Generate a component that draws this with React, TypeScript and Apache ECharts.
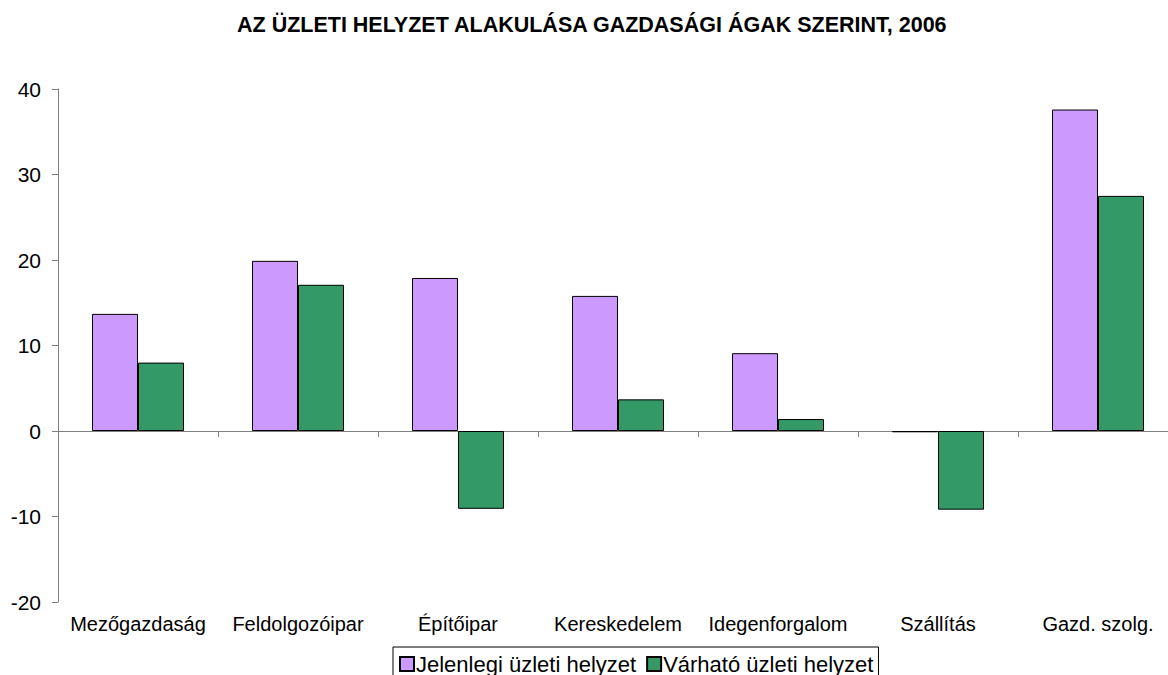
import React, { useEffect, useRef } from "react";
import * as echarts from "echarts";

const titleText = "AZ ÜZLETI HELYZET ALAKULÁSA GAZDASÁGI ÁGAK SZERINT, 2006";
const categories = [
  "Mezőgazdaság",
  "Feldolgozóipar",
  "Építőipar",
  "Kereskedelem",
  "Idegenforgalom",
  "Szállítás",
  "Gazd. szolg.",
];
const seriesNames = ["Jelenlegi üzleti helyzet", "Várható üzleti helyzet"];
const currentValues = [13.7, 19.9, 17.9, 15.8, 9.1, -0.15, 37.6];
const expectedValues = [8.0, 17.1, -9.1, 3.7, 1.4, -9.2, 27.5];
const yMin = -20;
const yMax = 40;
const yInterval = 10;

const FONT = "'Liberation Sans', Arial, sans-serif";

export default function App() {
  const ref = useRef<HTMLDivElement>(null);
  useEffect(() => {
    if (!ref.current) return;
    const chart = echarts.init(ref.current, undefined, { renderer: "svg" });
    chart.setOption({
      animation: false,
      backgroundColor: "#ffffff",
      title: {
        text: titleText,
        left: 237,
        top: 14,
        padding: 0,
        textStyle: { fontFamily: FONT, fontSize: 21.5, fontWeight: "bold", color: "#000" },
      },
      legend: {
        data: seriesNames,
        left: 393,
        top: 647,
        orient: "horizontal",
        icon: "rect",
        itemWidth: 14,
        itemHeight: 14,
        itemGap: 10,
        padding: [6, 5, 8, 6],
        borderColor: "#000",
        borderWidth: 1,
        borderRadius: 0,
        textStyle: { fontFamily: FONT, fontSize: 22, color: "#000", padding: [0, 0, 0, -3] },
      },
      grid: { left: 58, right: 0, top: 89, bottom: 73, containLabel: false },
      xAxis: [
        {
          type: "category",
          data: categories,
          position: "bottom",
          axisLine: { show: false, onZero: false },
          axisTick: { show: false },
          axisLabel: { fontFamily: FONT, fontSize: 20, color: "#000", margin: 12, interval: 0 },
        },
        {
          type: "category",
          data: categories,
          position: "top",
          axisLine: { show: true, onZero: true, lineStyle: { color: "#808080", width: 1 } },
          axisTick: { show: true, inside: true, length: 6, lineStyle: { color: "#808080" } },
          axisLabel: { show: false },
        },
      ],
      yAxis: {
        type: "value",
        min: yMin,
        max: yMax,
        interval: yInterval,
        axisLine: { show: true, onZero: false, lineStyle: { color: "#808080", width: 1 } },
        axisTick: { show: true, length: 6, lineStyle: { color: "#808080" } },
        splitLine: { show: false },
        axisLabel: { fontFamily: FONT, fontSize: 21, color: "#000", margin: 17 },
      },
      series: [
        {
          name: seriesNames[0],
          type: "bar",
          data: currentValues,
          barWidth: 46,
          barGap: "0%",
          itemStyle: { color: "#CC99FF", borderColor: "#000", borderWidth: 1 },
        },
        {
          name: seriesNames[1],
          type: "bar",
          data: expectedValues,
          barWidth: 46,
          barGap: "0%",
          itemStyle: { color: "#339966", borderColor: "#000", borderWidth: 1 },
        },
      ],
    });
    return () => chart.dispose();
  }, []);
  return (
    <div
      style={{
        position: "fixed",
        left: 0,
        top: 0,
        width: 1168,
        height: 675,
        overflow: "hidden",
        background: "#fff",
      }}
    >
      <div ref={ref} style={{ width: 1178, height: 675 }} />
    </div>
  );
}
